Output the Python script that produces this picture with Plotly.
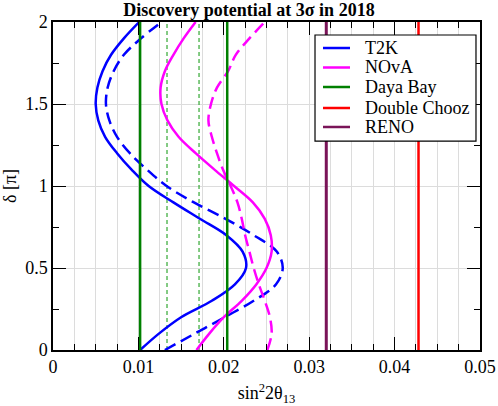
import plotly.graph_objects as go

# delta in units of pi
delta = [0.0, 0.1, 0.2, 0.3, 0.4, 0.5, 0.6, 0.7, 0.8, 0.9, 1.0,
         1.1, 1.2, 1.3, 1.4, 1.5, 1.6, 1.7, 1.8, 1.9, 2.0]

# sin^2 2theta13 reach for each delta
t2k_solid = [0.0102, 0.0124, 0.0150, 0.0186, 0.0213, 0.0226, 0.0222, 0.0203, 0.0172, 0.0141, 0.0112,
             0.0092, 0.0075, 0.0061, 0.0053, 0.0050, 0.0052, 0.0058, 0.0068, 0.0083, 0.0101]
t2k_dashed = [0.0131, 0.0166, 0.0201, 0.0235, 0.0261, 0.0269, 0.0262, 0.0235, 0.0202, 0.0165, 0.0133,
              0.0110, 0.0090, 0.0075, 0.0066, 0.0062, 0.0064, 0.0071, 0.0083, 0.0103, 0.0127]
nova_solid = [0.0168, 0.0183, 0.0200, 0.0221, 0.0238, 0.0250, 0.0256, 0.0255, 0.0248, 0.0234, 0.0212,
              0.0189, 0.0167, 0.0147, 0.0134, 0.0127, 0.0126, 0.0131, 0.0141, 0.0153, 0.0167]
nova_dashed = [0.0251, 0.0256, 0.0254, 0.0248, 0.0241, 0.0235, 0.0230, 0.0225, 0.0221, 0.0216, 0.0208,
               0.0199, 0.0192, 0.0186, 0.0182, 0.0185, 0.0192, 0.0205, 0.0214, 0.0230, 0.0248]

# reactor experiments (independent of delta)
dayabay_solid = [0.0102, 0.0204]
dayabay_dashed = [0.01335, 0.0171]
double_chooz = [0.0428]
reno = [0.0320]

legend_names = ["T2K", "NOvA", "Daya Bay", "Double Chooz", "RENO"]
legend_colors = ["#0000ff", "#ff00ff", "#008000", "#ff0000", "#7a1458"]

font = "Liberation Serif, Times New Roman, Times, serif"
fig = go.Figure()


def vline(x, color, width, dash):
    fig.add_trace(go.Scatter(
        x=[x, x], y=[0, 2], mode="lines", showlegend=False,
        line=dict(color=color, width=width, dash=dash), hoverinfo="skip"))


# reactor lines
for v in dayabay_dashed:
    vline(v, "#33a833", 1.2, "4px,3px")

fig.add_trace(go.Scatter(x=t2k_solid, y=delta, mode="lines", name="T2K",
                         line=dict(color="#0000ff", width=2.5, shape="spline")))
fig.add_trace(go.Scatter(x=t2k_dashed, y=delta, mode="lines", name="T2K",
                         line=dict(color="#0000ff", width=2.5, shape="spline", dash="12px,6px")))
fig.add_trace(go.Scatter(x=nova_solid, y=delta, mode="lines", name="NOvA",
                         line=dict(color="#ff00ff", width=2.5, shape="spline")))
fig.add_trace(go.Scatter(x=nova_dashed, y=delta, mode="lines", name="NOvA",
                         line=dict(color="#ff00ff", width=2.5, shape="spline", dash="12px,6px")))

for v in dayabay_solid:
    vline(v, "#008000", 2.5, "solid")
for v in double_chooz:
    vline(v, "#ff0000", 2.5, "solid")
for v in reno:
    vline(v, "#7a1458", 3, "solid")

# hand-made legend box in the upper right
fig.add_shape(type="rect", xref="paper", yref="paper", x0=0.6136, x1=0.9906, y0=0.637, y1=0.9604,
              line=dict(color="black", width=1.2), fillcolor="white", layer="above")
legend_y = [0.9207, 0.8613, 0.8018, 0.7378, 0.6799]
for name, color, ly in zip(legend_names, legend_colors, legend_y):
    fig.add_shape(type="line", xref="paper", yref="paper", x0=0.6323, x1=0.6956, y0=ly, y1=ly,
                  line=dict(color=color, width=2.5), layer="above")
    fig.add_annotation(text=name, xref="paper", yref="paper", x=0.726, y=ly, xanchor="left",
                       yanchor="middle", showarrow=False, font=dict(family=font, size=18))

fig.update_layout(
    width=498, height=406,
    margin=dict(l=53, r=18, t=22, b=56),
    paper_bgcolor="white", plot_bgcolor="white",
    font=dict(family=font, size=18, color="black"),
    title=dict(text="<b>Discovery potential at 3σ in 2018</b>", x=0.5, xref="container",
               y=0.975, yref="container", yanchor="middle",
               font=dict(family=font, size=18)),
    showlegend=False,
)
fig.update_xaxes(
    range=[0, 0.05], dtick=0.01, ticks="inside", ticklen=13, tickcolor="black",
    tickfont=dict(family=font, size=18), automargin=False,
    showline=True, linecolor="black", linewidth=1.5, mirror="ticks",
    showgrid=True, gridcolor="#dcdcdc", zeroline=False,
    minor=dict(dtick=0.0025, ticks="inside", ticklen=6, tickcolor="black",
               showgrid=True, gridcolor="#dcdcdc"),
    title=dict(text="sin<sup>2</sup>2θ<sub>13</sub>", font=dict(family=font, size=18)),
)
fig.update_yaxes(
    range=[0, 2], dtick=0.5, ticks="inside", ticklen=13, tickcolor="black",
    tickfont=dict(family=font, size=18), automargin=False,
    showline=True, linecolor="black", linewidth=1.5, mirror="ticks",
    showgrid=True, gridcolor="#dcdcdc", zeroline=False,
    minor=dict(dtick=0.25, ticks="inside", ticklen=6, tickcolor="black", showgrid=False),
    title=dict(text="δ [π]", font=dict(family=font, size=18)),
)

# the page body has a default margin; drop it so the figure sits at the window corner
fig.write_html("out.html", config={"displayModeBar": False},
               post_script="document.body.style.margin = '0px';")
